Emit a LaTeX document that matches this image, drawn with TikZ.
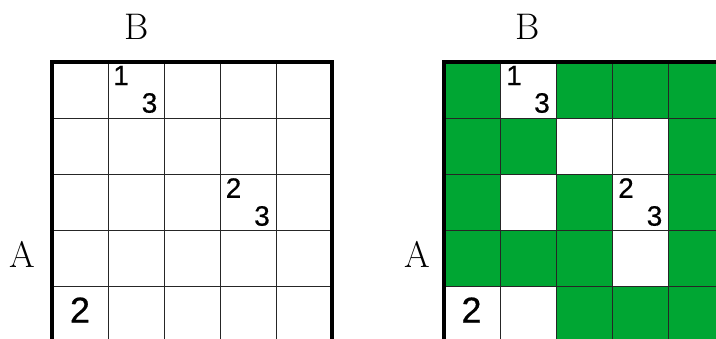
\documentclass[tikz,border=0pt]{standalone}
\usepackage{fontspec}
\newfontface\digitfont[FakeBold=0.6]{Liberation Sans}
\definecolor{cellgreen}{RGB}{0,166,51}
\begin{document}
\begin{tikzpicture}[x=1pt,y=-1pt,
  thinline/.style={draw=black!85,line width=1pt},
  thickline/.style={draw=black,line width=3.2pt},
  letter/.style={inner sep=0pt,font=\fontsize{37}{40}\selectfont},
  smalldigit/.style={inner sep=0pt,font=\digitfont\fontsize{28}{32}\selectfont},
  bigdigit/.style={inner sep=0pt,font=\digitfont\fontsize{36}{40}\selectfont}]
\useasboundingbox (0,0) rectangle (716,338);
\clip (0,0) rectangle (716,338);
% right grid fills
\foreach \c/\r in {0/0,2/0,3/0,4/0, 0/1,1/1,4/1, 0/2,2/2,4/2, 0/3,1/3,2/3,4/3, 2/4,3/4,4/4}
  \fill[cellgreen] ({444+56*\c},{62+56*\r}) rectangle ++(56,56);
% grids
\foreach \x in {52,444}{
  \foreach \i in {1,...,4}{
    \draw[thinline] ({\x+56*\i},62) -- ({\x+56*\i},342);
    \draw[thinline] (\x,{62+56*\i}) -- ({\x+280},{62+56*\i});
  }
  \draw[thickline] (\x,62) rectangle ({\x+280},342);
}
% labels left
\node[letter] (B1) at (136.5,27) {B};
\node[letter] (A1) at (22.5,254) {A};
\node[smalldigit] (l1) at (121,75.5) {1};
\node[smalldigit] (l3a) at (149.5,103) {3};
\node[smalldigit] (l2) at (233.5,188) {2};
\node[smalldigit] (l3b) at (262,216) {3};
\node[bigdigit] (l2b) at (80,310) {2};
% labels right
\node[letter] (B2) at (527.5,27) {B};
\node[letter] (A2) at (417.5,254) {A};
\node[smalldigit] (r1) at (514,75.5) {1};
\node[smalldigit] (r3a) at (542,103) {3};
\node[smalldigit] (r2) at (626,188) {2};
\node[smalldigit] (r3b) at (654.5,216) {3};
\node[bigdigit] (r2b) at (471.5,310) {2};
\end{tikzpicture}
\end{document}
